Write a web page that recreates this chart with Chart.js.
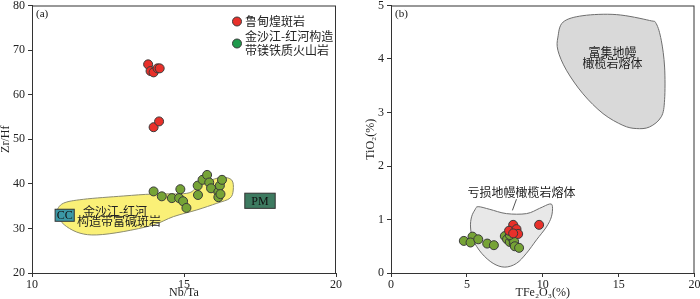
<!DOCTYPE html>
<html>
<head>
<meta charset="utf-8">
<script src="https://cdn.jsdelivr.net/npm/chart.js@4/dist/chart.umd.min.js"></script>
<style>
  html, body { margin: 0; padding: 0; background: #fff; }
  #wrap { position: relative; width: 700px; height: 299px; }
  canvas { position: absolute; top: 0; }
</style>
</head>
<body>
<div id="wrap">
  <canvas id="ca" width="350" height="299" style="left:0"></canvas>
  <canvas id="cb" width="350" height="299" style="left:350px"></canvas>
</div>
<script>
// ---- data, panel (a): Zr/Hf vs Nb/Ta
const luRedNbTa = [13.82, 13.9, 14.0, 14.13, 14.2, 14.0, 14.18];
const luRedZrHf = [66.8, 65.3, 65.0, 65.9, 65.9, 52.7, 54.0];
const jsGreenNbTa = [14.0, 14.27, 14.6, 14.84, 14.88, 14.97, 15.08, 15.45, 15.46, 15.61, 15.76, 15.83, 15.89, 16.13, 16.13, 16.18, 16.25, 16.2];
const jsGreenZrHf = [38.3, 37.2, 36.8, 36.8, 38.8, 36.1, 34.6, 39.6, 37.5, 40.9, 42.0, 40.3, 39.0, 38.2, 37.0, 39.6, 40.9, 37.7];
// yellow field outline (富碱斑岩)
const alkFieldX = [10.81, 11.03, 11.69, 13.0, 13.99, 15.09, 15.42, 15.75, 16.24, 16.57, 16.62, 16.51, 16.08, 15.42, 14.65, 13.99, 13.0, 12.13, 11.58, 11.14, 10.87];
const alkFieldY = [33.76, 35.64, 36.53, 37.27, 37.72, 37.87, 39.22, 40.47, 41.45, 40.85, 38.61, 36.76, 35.64, 34.14, 32.64, 30.78, 29.28, 28.54, 28.93, 30.4, 32.28];
const ccBox = [10.76, 11.39, 31.6, 34.3];
const pmBox = [17.0, 18.0, 34.5, 37.9];

// ---- data, panel (b): TiO2 vs TFe2O3
const luRedFe = [8.05, 7.78, 8.27, 8.38, 8.05, 9.76];
const luRedTi = [0.90, 0.79, 0.82, 0.73, 0.74, 0.90];
const jsGreenFe = [4.8, 5.37, 5.24, 5.75, 6.34, 6.78, 7.5, 7.65, 7.83, 7.98, 8.09, 8.11, 8.16, 8.44, 7.83];
const jsGreenTi = [0.60, 0.68, 0.57, 0.63, 0.55, 0.52, 0.69, 0.63, 0.58, 0.65, 0.55, 0.59, 0.50, 0.47, 0.71];
// depleted mantle melt field
const depFieldX = [5.74, 6.51, 7.61, 8.93, 9.8, 10.46, 10.64, 10.57, 10.24, 9.59, 8.93, 8.27, 7.5, 6.73, 5.97, 5.41, 5.24, 5.31, 5.53];
const depFieldY = [1.24, 1.19, 1.11, 1.11, 1.21, 1.29, 1.24, 1.05, 0.86, 0.62, 0.37, 0.18, 0.11, 0.18, 0.37, 0.62, 0.86, 1.05, 1.18];
// enriched mantle melt field
const enrFieldX = [11.34, 12.65, 14.85, 17.04, 17.48, 17.81, 18.03, 18.03, 17.81, 17.04, 16.16, 15.28, 13.97, 12.65, 11.56, 11.0, 11.0];
const enrFieldY = [4.69, 4.81, 4.83, 4.72, 4.66, 4.35, 3.85, 3.24, 2.92, 2.73, 2.70, 2.76, 2.98, 3.35, 3.79, 4.16, 4.41];

const RED = '#e8302a';
const GREEN = '#76a336';
const EDGE = '#3a3a3a';
const SERIF = '"Liberation Serif", "DejaVu Serif", serif';
const CJK = '"Noto Sans CJK SC", sans-serif';

function pts(xs, ys) {
  return xs.map((v, i) => ({ x: v, y: ys[i] }));
}

function smoothPath(ctx, p) {
  const n = p.length;
  ctx.beginPath();
  ctx.moveTo(p[0][0], p[0][1]);
  for (let i = 0; i < n; i++) {
    const p0 = p[(i - 1 + n) % n], p1 = p[i], p2 = p[(i + 1) % n], p3 = p[(i + 2) % n];
    ctx.bezierCurveTo(
      p1[0] + (p2[0] - p0[0]) / 6, p1[1] + (p2[1] - p0[1]) / 6,
      p2[0] - (p3[0] - p1[0]) / 6, p2[1] - (p3[1] - p1[1]) / 6,
      p2[0], p2[1]);
  }
  ctx.closePath();
}

// fields, boxes, labels, frame, legend
const decor = {
  id: 'decor',
  beforeDatasetsDraw(chart, args, opts) {
    const ctx = chart.ctx, sx = chart.scales.x, sy = chart.scales.y;
    ctx.save();
    (opts.regions || []).forEach(r => {
      const p = r.xs.map((v, i) => [sx.getPixelForValue(v), sy.getPixelForValue(r.ys[i])]);
      smoothPath(ctx, p);
      ctx.fillStyle = r.fill;
      ctx.fill();
      ctx.lineWidth = 1;
      ctx.strokeStyle = r.stroke;
      ctx.stroke();
    });
    (opts.boxes || []).forEach(b => {
      const x0 = sx.getPixelForValue(b.r[0]), x1 = sx.getPixelForValue(b.r[1]);
      const y0 = sy.getPixelForValue(b.r[3]), y1 = sy.getPixelForValue(b.r[2]);
      ctx.fillStyle = b.fill;
      ctx.fillRect(x0, y0, x1 - x0, y1 - y0);
      ctx.strokeStyle = '#333';
      ctx.strokeRect(x0, y0, x1 - x0, y1 - y0);
      ctx.fillStyle = '#111';
      ctx.font = '12px ' + SERIF;
      ctx.textAlign = 'center';
      ctx.textBaseline = 'middle';
      ctx.fillText(b.text, (x0 + x1) / 2, (y0 + y1) / 2 + 1);
    });
    (opts.lines || []).forEach(l => {
      ctx.beginPath();
      ctx.moveTo(sx.getPixelForValue(l[0]), sy.getPixelForValue(l[1]));
      ctx.lineTo(sx.getPixelForValue(l[2]), sy.getPixelForValue(l[3]));
      ctx.strokeStyle = '#555';
      ctx.stroke();
    });
    (opts.texts || []).forEach(t => {
      ctx.fillStyle = '#222';
      ctx.font = '12px ' + CJK;
      ctx.textAlign = 'center';
      ctx.textBaseline = 'middle';
      ctx.fillText(t.text, sx.getPixelForValue(t.x), sy.getPixelForValue(t.y));
    });
    ctx.restore();
  },
  afterDraw(chart, args, opts) {
    const ctx = chart.ctx, a = chart.chartArea;
    ctx.save();
    ctx.strokeStyle = '#333';
    ctx.lineWidth = 1;
    ctx.strokeRect(a.left + 0.5, a.top + 0.5, a.right - a.left - 1, a.bottom - a.top);
    ctx.fillStyle = '#111';
    ctx.font = '11px ' + SERIF;
    ctx.textAlign = 'left';
    ctx.textBaseline = 'middle';
    ctx.fillText(opts.tag, a.left + 4, a.top + 9);
    if (opts.legend) {
      opts.legend.forEach((it, k) => {
        const cy = a.top + 16 + k * 22;
        ctx.beginPath();
        ctx.arc(a.left + 205, cy, 4.5, 0, Math.PI * 2);
        ctx.fillStyle = it.color;
        ctx.fill();
        ctx.strokeStyle = EDGE;
        ctx.stroke();
        ctx.fillStyle = '#222';
        ctx.font = '12px ' + CJK;
        it.lines.forEach((s, j) => {
          ctx.fillText(s, a.left + 213, cy + (j - (it.lines.length - 1) / 2) * 14);
        });
      });
    }
    ctx.restore();
  }
};

function scatterSet(label, data, color) {
  return {
    label: label,
    data: data,
    backgroundColor: color,
    borderColor: EDGE,
    borderWidth: 1,
    pointRadius: 4.5,
    pointHoverRadius: 4.5
  };
}

function axis(min, max, step, title, isY, boxSize, titlePad) {
  return {
    type: 'linear',
    min: min,
    max: max,
    border: { display: true, color: '#333' },
    grid: { drawOnChartArea: false, drawTicks: true, tickLength: 4, color: '#333' },
    ticks: {
      stepSize: step,
      color: '#222',
      padding: isY ? 3 : 1,
      font: { family: SERIF, size: 12 }
    },
    title: {
      display: true,
      text: title,
      color: '#222',
      padding: isY ? { top: titlePad, bottom: 0 } : { top: 0, bottom: 0 },
      font: { family: SERIF, size: 12, lineHeight: 1 }
    },
    afterFit(s) {
      if (isY) s.width = boxSize; else s.height = boxSize;
      s.paddingLeft = 0; s.paddingRight = 0; s.paddingTop = 0; s.paddingBottom = 0;
    }
  };
}

Chart.defaults.animation = false;

new Chart(document.getElementById('ca'), {
  type: 'scatter',
  data: {
    datasets: [
      scatterSet('鲁甸煌斑岩', pts(luRedNbTa, luRedZrHf), RED),
      scatterSet('金沙江-红河构造带镁铁质火山岩', pts(jsGreenNbTa, jsGreenZrHf), GREEN)
    ]
  },
  options: {
    responsive: false,
    layout: { padding: { top: 5, right: 14, bottom: 0, left: 0 } },
    plugins: {
      legend: { display: false },
      tooltip: { enabled: false },
      decor: {
        tag: '(a)',
        regions: [{ xs: alkFieldX, ys: alkFieldY, fill: '#faf077', stroke: '#8c8c70' }],
        boxes: [
          { r: ccBox, fill: '#3b98a6', text: 'CC' },
          { r: pmBox, fill: '#3d7a60', text: 'PM' }
        ],
        texts: [
          { text: '金沙江-红河', x: 12.73, y: 33.76 },
          { text: '构造带富碱斑岩', x: 12.86, y: 31.5 }
        ],
        legend: [
          { color: RED, lines: ['鲁甸煌斑岩'] },
          { color: '#1f9a4c', lines: ['金沙江-红河构造', '带镁铁质火山岩'] }
        ]
      }
    },
    scales: {
      x: axis(10, 20, 5, 'Nb/Ta', false, 26, 0),
      y: axis(20, 80, 10, 'Zr/Hf', true, 32, 0)
    }
  },
  plugins: [decor]
});

new Chart(document.getElementById('cb'), {
  type: 'scatter',
  data: {
    datasets: [
      scatterSet('鲁甸煌斑岩', pts(luRedFe, luRedTi), RED),
      scatterSet('金沙江-红河构造带镁铁质火山岩', pts(jsGreenFe, jsGreenTi), GREEN)
    ]
  },
  options: {
    responsive: false,
    layout: { padding: { top: 5, right: 5, bottom: 0, left: 0 } },
    plugins: {
      legend: { display: false },
      tooltip: { enabled: false },
      decor: {
        tag: '(b)',
        regions: [
          { xs: depFieldX, ys: depFieldY, fill: '#e8e8e8', stroke: '#6e6e6e' },
          { xs: enrFieldX, ys: enrFieldY, fill: '#d9d9d9', stroke: '#6e6e6e' }
        ],
        lines: [[8.0, 1.17, 8.27, 1.38]],
        texts: [
          { text: '亏损地幔橄榄岩熔体', x: 8.6, y: 1.5 },
          { text: '富集地幔', x: 14.6, y: 4.13 },
          { text: '橄榄岩熔体', x: 14.6, y: 3.91 }
        ]
      }
    },
    scales: {
      x: axis(0, 20, 5, 'TFe₂O₃(%)', false, 26, 0),
      y: axis(0, 5, 1, 'TiO₂(%)', true, 41, 15)
    }
  },
  plugins: [decor]
});
</script>
</body>
</html>
